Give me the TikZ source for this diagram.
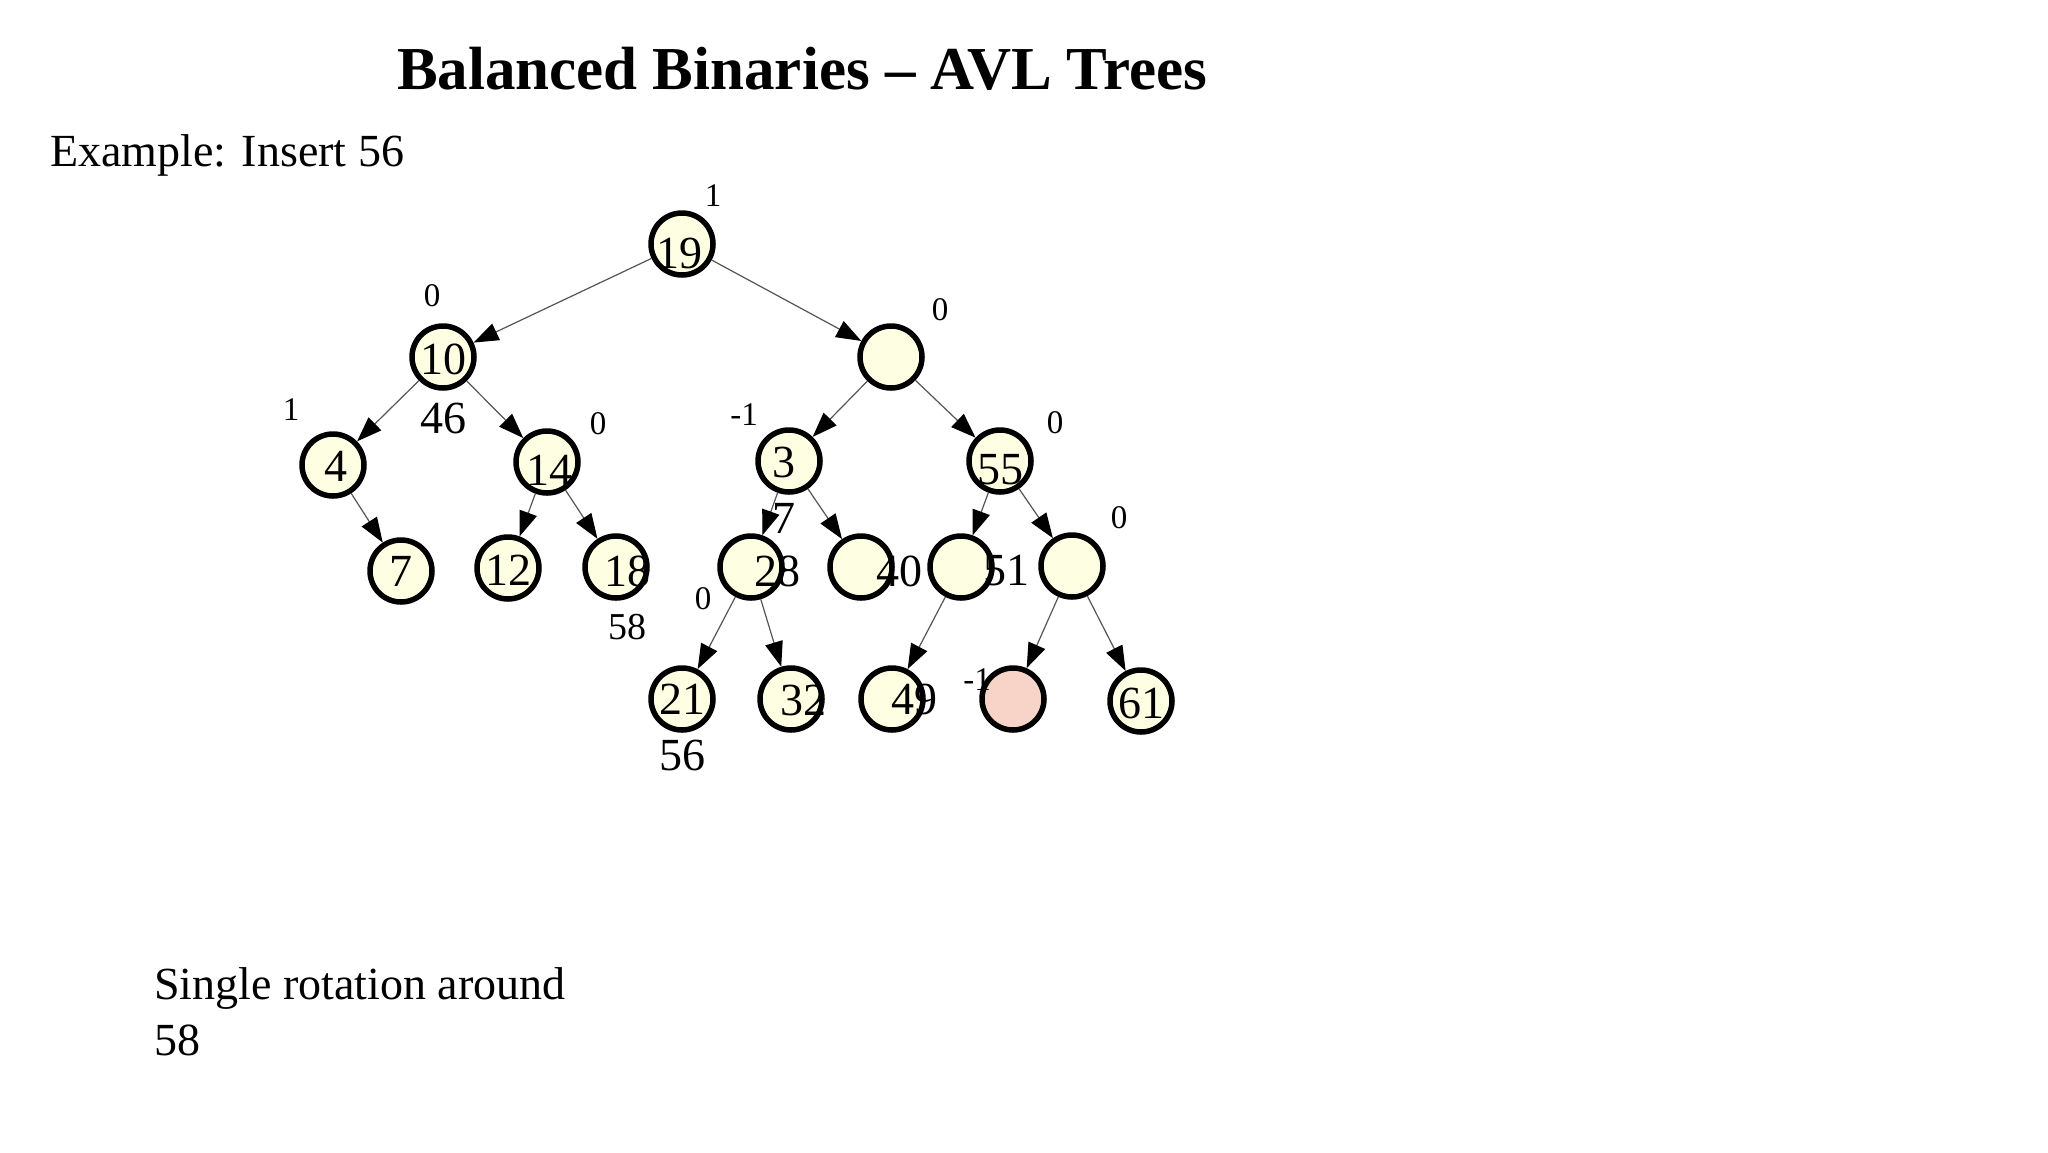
\documentclass[tikz,border=0pt]{standalone}
\usepackage{fontspec}
\setmainfont{Liberation Serif}
\usetikzlibrary{arrows.meta}
\definecolor{cream}{RGB}{254,254,226}
\definecolor{pinkfill}{RGB}{248,211,200}
\definecolor{edgegray}{RGB}{85,85,85}
\begin{document}
\begin{tikzpicture}[x=1pt,y=-1pt,
  tn/.style={circle,draw=black,line width=5.5pt,fill=cream,minimum size=62pt,inner sep=0pt},
  lab/.style={font=\fontsize{46}{54}\selectfont,inner sep=0pt},
  bal/.style={font=\fontsize{33}{40}\selectfont,inner sep=0pt},
  txt/.style={font=\fontsize{46}{55}\selectfont,inner sep=0pt,anchor=base west},
  edge/.style={draw=edgegray,line width=1.2pt,-{Triangle[length=25pt,width=18pt,black]}}]
\useasboundingbox (0,0) rectangle (2048,1152);
\fill[white] (0,0) rectangle (2048,1152);

% title and texts
\node[font=\bfseries\fontsize{61}{72}\selectfont,inner sep=0pt,anchor=base] (title) at (802,89) {Balanced Binaries – AVL Trees};
\node[txt] (example) at (50,166) {Example: Insert 56};
\node[txt] (single1) at (154,999) {Single rotation around};
\node[txt] (single2) at (154,1055) {58};

% tree nodes
\node[tn] (n19) at (682,244) {};
\node[tn] (nR) at (891,357) {};
\node[tn] (n10) at (443,357) {};
\node[tn] (n4) at (333,465) {};
\node[tn] (n14) at (547,462) {};
\node[tn] (n3) at (789,461) {};
\node[tn] (n55) at (1000,461) {};
\node[tn] (n7) at (401,571) {};
\node[tn] (n12) at (508,568) {};
\node[tn] (n18) at (616,567) {};
\node[tn] (n28) at (751,567) {};
\node[tn] (n40) at (861,567) {};
\node[tn] (n51) at (961,567) {};
\node[tn] (nRR) at (1072,566) {};
\node[tn] (n21) at (682,699) {};
\node[tn] (n32) at (791,699) {};
\node[tn] (n49) at (892,699) {};
\node[tn,fill=pinkfill] (npink) at (1013,699) {};
\node[tn] (n61) at (1141,701) {};

% edges
\draw[edge] (n19) -- (n10);
\draw[edge] (n19) -- (nR);
\draw[edge] (n10) -- (n4);
\draw[edge] (n10) -- (n14);
\draw[edge] (n4) -- (n7);
\draw[edge] (n14) -- (n12);
\draw[edge] (n14) -- (n18);
\draw[edge] (nR) -- (n3);
\draw[edge] (nR) -- (n55);
\draw[edge] (n3) -- (n28);
\draw[edge] (n3) -- (n40);
\draw[edge] (n55) -- (n51);
\draw[edge] (n55) -- (nRR);
\draw[edge] (n28) -- (n21);
\draw[edge] (n28) -- (n32);
\draw[edge] (n51) -- (n49);
\draw[edge] (nRR) -- (npink);
\draw[edge] (nRR) -- (n61);

% key labels
\node[lab] (l19) at (679,253) {19};
\node[lab] (l10) at (443,359) {10};
\node[lab] (l46) at (443,418) {46};
\node[lab] (l4) at (336,466) {4};
\node[lab] (l14) at (549,470) {14};
\node[lab] (l3) at (784,462) {3};
\node[lab] (l55) at (1000,470) {55};
\node[lab] (l7) at (401,571) {7};
\node[lab] (l12) at (508,570) {12};
\node[lab] (l18) at (627,571) {18};
\node[lab,font=\fontsize{38}{46}\selectfont] (l58) at (627,627) {58};
\node[lab] (l28) at (777,571) {28};
\node[lab] (l7b) at (784,518) {7};
\node[lab] (l40) at (899,571) {40};
\node[lab] (l51) at (1006,571) {51};
\node[lab] (l21) at (682,699) {21};
\node[lab] (l56) at (682,755) {56};
\node[lab] (l32) at (803,700) {32};
\node[lab] (l49) at (914,699) {49};
\node[lab] (l61) at (1141,703) {61};

% balance factors
\node[bal] (b19) at (713,196) {1};
\node[bal] (bR) at (940,310) {0};
\node[bal] (b10) at (432,296) {0};
\node[bal] (b4) at (291,410) {1};
\node[bal] (b14) at (598,424) {0};
\node[bal] (b3) at (744,415) {-1};
\node[bal] (b55) at (1055,423) {0};
\node[bal] (b28) at (703,599) {0};
\node[bal] (bRR) at (1119,518) {0};
\node[bal] (bpink) at (977,680) {-1};
\end{tikzpicture}
\end{document}
